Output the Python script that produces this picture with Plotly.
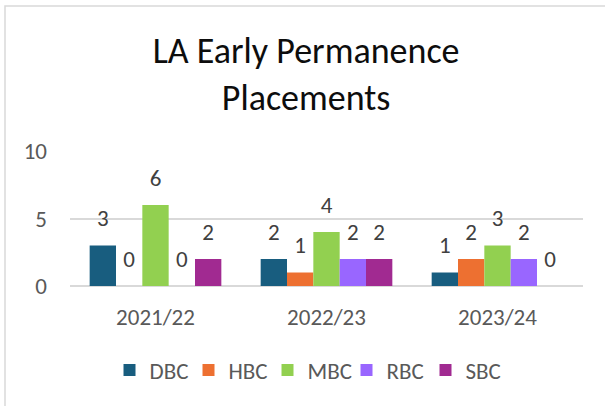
import plotly.graph_objects as go

years = ['2021/22', '2022/23', '2023/24']
dbc = [3, 2, 1]
hbc = [0, 1, 2]
mbc = [6, 4, 3]
rbc = [0, 2, 2]
sbc = [2, 2, 0]
y_ticks = [0, 5, 10]

series = [
    ('DBC', dbc, '#185D7F'),
    ('HBC', hbc, '#ED7031'),
    ('MBC', mbc, '#92D050'),
    ('RBC', rbc, '#9966FF'),
    ('SBC', sbc, '#A12A91'),
]

FONT = 'Carlito, Calibri, Liberation Sans, sans-serif'

fig = go.Figure()
for name, vals, color in series:
    fig.add_trace(go.Bar(name=name, x=years, y=vals, marker_color=color,
                         marker_line_width=0, offsetgroup=name))
# value labels, lined up with the bars via offsetgroup
for name, vals, color in series:
    fig.add_trace(go.Scatter(x=years, y=vals, mode='text+markers', text=[str(v) for v in vals],
                             textposition='top center', offsetgroup=name, showlegend=False,
                             marker=dict(size=20, opacity=0), hoverinfo='skip',
                             textfont=dict(family=FONT, size=23, color='#404040'),
                             cliponaxis=False))

fig.update_layout(
    width=605, height=406,
    barmode='group', scattermode='group',
    bargap=0.23, bargroupgap=0,
    margin=dict(l=70, r=22, t=151, b=120),
    paper_bgcolor='white', plot_bgcolor='white',
    font=dict(family=FONT, color='#595959'),
    title=dict(text='LA Early Permanence<br>Placements', x=0.506, xanchor='center',
               y=0.845, yanchor='top',
               font=dict(family=FONT, size=36, color='#0d0d0d')),
    legend=dict(orientation='h', x=0.462, xanchor='center', y=-0.622, yanchor='middle',
                font=dict(size=23, color='#595959'), traceorder='normal',
                entrywidth=34, entrywidthmode='pixels'),
    showlegend=True,
)
fig.update_yaxes(range=[0, 10], tickvals=y_ticks, showgrid=True, gridcolor='#d9d9d9',
                 gridwidth=1.5, zeroline=True, zerolinecolor='#d9d9d9', zerolinewidth=1.5,
                 tickfont=dict(size=23, color='#595959'), ticklabelstandoff=22)
fig.update_xaxes(showline=False, tickfont=dict(size=23, color='#595959'),
                 ticklabelstandoff=15)

# chart frame (only top and left edges fall inside the picture)
fig.add_shape(type='rect', xref='paper', yref='paper', x0=-0.1267, x1=1.2, y0=-1.2, y1=2.074,
              line=dict(color='#d9d9d9', width=1.5), layer='below')

# drop the page's default body margin so the figure sits at the window corner
fig.write_html('out.html', config={'displayModeBar': False},
               post_script="document.body.style.margin='0';")
